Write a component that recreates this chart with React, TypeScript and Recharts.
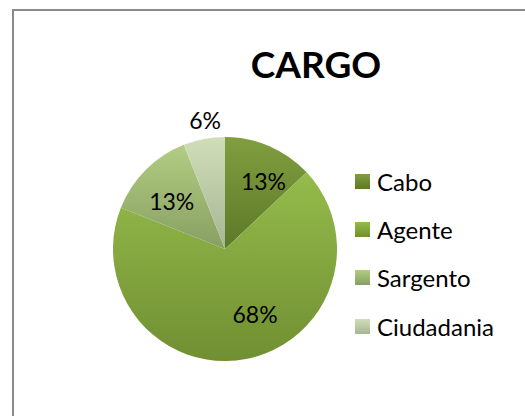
import { PieChart, Pie, Cell, Legend } from "recharts";

// cargo breakdown (percent of respondents)
const categories = ["Cabo", "Agente", "Sargento", "Ciudadania"];
const values = [13, 68, 13, 6];
const title = "CARGO";

// top → bottom gradient stops per slice
const gradTop = ["#809f3f", "#95bb4b", "#b2cd83", "#d0deb8"];
const gradBottom = ["#5d7828", "#708f32", "#879f62", "#a6b593"];
// Excel's best-fit labels sit a little off the slice bisector
const labelNudgeDeg = [-6, 14, 3, -2];
const labelRadius = [0.7, 0.64, 0.64, 1.165];

const FONT = "Lato, 'Open Sans', sans-serif";
const RADIAN = Math.PI / 180;

const data = categories.map((name, i) => ({ name, value: values[i] }));

function renderLabel(props: any) {
  const { cx, cy, midAngle, outerRadius, percent, index } = props;
  const r = outerRadius * labelRadius[index];
  const a = (midAngle + labelNudgeDeg[index]) * RADIAN;
  const x = cx + r * Math.cos(-a);
  const y = cy + r * Math.sin(-a);
  return (
    <text
      x={x}
      y={y}
      fill="#000"
      textAnchor="middle"
      dominantBaseline="central"
      fontFamily={FONT}
      fontSize={23}
    >
      {`${Math.round(percent * 100)}%`}
    </text>
  );
}

function LegendBox({ payload }: any) {
  // keep the series order instead of the legend's alphabetical sort
  const items = [...(payload || [])].sort(
    (a: any, b: any) => categories.indexOf(a.value) - categories.indexOf(b.value)
  );
  return (
    <div style={{ fontFamily: FONT, fontSize: 24, color: "#000" }}>
      {items.map((p: any) => {
        const i = categories.indexOf(p.value);
        return (
          <div
            key={p.value}
            style={{ display: "flex", alignItems: "center", height: 48.3 }}
          >
            <span
              style={{
                display: "inline-block",
                width: 15,
                height: 15,
                marginRight: 7,
                background: `linear-gradient(${gradTop[i]}, ${gradBottom[i]})`,
              }}
            />
            <span>{p.value}</span>
          </div>
        );
      })}
    </div>
  );
}

export default function App() {
  return (
    <div
      style={{
        position: "fixed",
        left: 0,
        top: 0,
        width: 525,
        height: 416,
        overflow: "hidden",
        background: "#fff",
      }}
    >
      <style>{`.recharts-pie-sectors{filter:drop-shadow(0 3px 3px rgba(0,0,0,0.35));}`}</style>
      <div
        style={{
          position: "absolute",
          left: 12,
          top: 9,
          width: 600,
          height: 500,
          border: "2px solid #8a8a8a",
        }}
      />
      <div
        style={{
          position: "absolute",
          left: 216,
          width: 200,
          top: 41,
          textAlign: "center",
          fontFamily: FONT,
          fontWeight: 700,
          fontSize: 37,
          lineHeight: "46px",
          color: "#000",
        }}
      >
        {title}
      </div>
      <div style={{ position: "absolute", left: 0, top: 0 }}>
        <PieChart
          width={525}
          height={416}
          margin={{ top: 0, right: 0, bottom: 0, left: 0 }}
        >
          <defs>
            {categories.map((c, i) => (
              <linearGradient key={c} id={`g${i}`} x1="0" y1="0" x2="0" y2="1">
                <stop offset="0%" stopColor={gradTop[i]} />
                <stop offset="100%" stopColor={gradBottom[i]} />
              </linearGradient>
            ))}
          </defs>
          <Pie
            data={data}
            dataKey="value"
            nameKey="name"
            cx={225}
            cy={249}
            outerRadius={112}
            startAngle={90}
            endAngle={-270}
            stroke="none"
            label={renderLabel}
            labelLine={false}
            isAnimationActive={false}
          >
            {data.map((d, i) => (
              <Cell key={d.name} fill={`url(#g${i})`} />
            ))}
          </Pie>
          <Legend
            layout="vertical"
            align="right"
            verticalAlign="top"
            content={<LegendBox />}
            wrapperStyle={{ position: "absolute", left: 355, top: 157, width: 170 }}
          />
        </PieChart>
      </div>
    </div>
  );
}
